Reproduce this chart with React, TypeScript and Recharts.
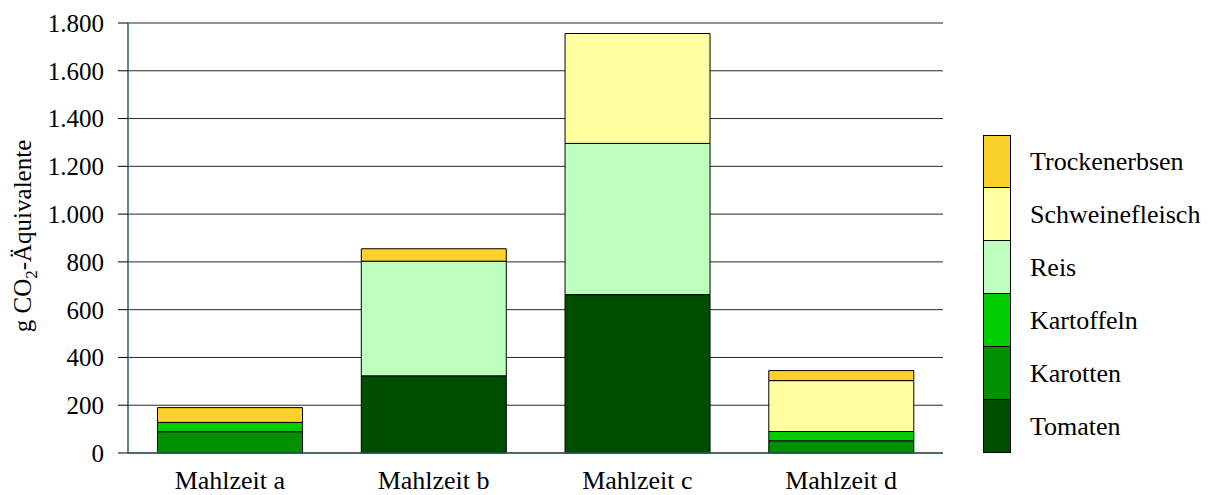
import React from "react";
import { BarChart, Bar, XAxis, YAxis, CartesianGrid } from "recharts";

const meals = ["Mahlzeit a", "Mahlzeit b", "Mahlzeit c", "Mahlzeit d"];
const tomaten = [0, 323, 663, 0];
const karotten = [89, 0, 0, 51];
const kartoffeln = [39, 0, 0, 39];
const reis = [0, 480, 633, 0];
const schweinefleisch = [0, 0, 460, 213];
const trockenerbsen = [62, 52, 0, 42];
const yTicks = [0, 200, 400, 600, 800, 1000, 1200, 1400, 1600, 1800];

const series = [
  { key: "Tomaten", color: "#004d00" },
  { key: "Karotten", color: "#009000" },
  { key: "Kartoffeln", color: "#00cc00" },
  { key: "Reis", color: "#bdffbd" },
  { key: "Schweinefleisch", color: "#ffff9f" },
  { key: "Trockenerbsen", color: "#fcd12a" },
];

const data = meals.map((name, i) => ({
  name,
  Tomaten: tomaten[i],
  Karotten: karotten[i],
  Kartoffeln: kartoffeln[i],
  Reis: reis[i],
  Schweinefleisch: schweinefleisch[i],
  Trockenerbsen: trockenerbsen[i],
}));

const FONT = "'Liberation Serif', 'Times New Roman', serif";
const FRAME = "#2f5f5f";

const fmt = (v: number) => String(v).replace(/\B(?=(\d{3})+(?!\d))/g, ".");

const YLabel = () => (
  <text
    x={0}
    y={0}
    transform="translate(31, 236) rotate(-90)"
    textAnchor="middle"
    fontFamily={FONT}
    fontSize={25}
    fill="#000"
  >
    <tspan>g CO</tspan>
    <tspan fontSize={17} dy={6}>2</tspan>
    <tspan dy={-6}>-Äquivalente</tspan>
  </text>
);

// legend drawn beside the chart, top item first
const LegendBox = () => (
  <div
    style={{
      position: "absolute",
      left: 983,
      top: 135,
      fontFamily: FONT,
      fontSize: 26,
      color: "#000",
    }}
  >
    {[...series].reverse().map((s, i) => (
      <div key={s.key} style={{ display: "flex", alignItems: "center", height: 53 }}>
        <div
          style={{
            width: 28,
            height: 53,
            background: s.color,
            border: "1px solid #000",
            borderTopWidth: i === 0 ? 1 : 0,
            boxSizing: "border-box",
          }}
        />
        <span style={{ marginLeft: 19, whiteSpace: "nowrap" }}>{s.key}</span>
      </div>
    ))}
  </div>
);

export default function App() {
  return (
    <div style={{ position: "absolute", left: 0, top: 0, width: 1209, height: 495, background: "#fff" }}>
      <BarChart
        width={1209}
        height={495}
        data={data}
        margin={{ top: 23, right: 266, bottom: 0, left: 0 }}
        barCategoryGap="14.5%"
      >
        <CartesianGrid vertical={false} stroke="#000" strokeOpacity={0.85} yAxisId={0} />
        <XAxis
          dataKey="name"
          height={42}
          tickLine={false}
          axisLine={{ stroke: FRAME, strokeWidth: 1.5 }}
          tick={{ fill: "#000", fontFamily: FONT, fontSize: 26 }}
          tickMargin={12}
          interval={0}
        />
        <XAxis xAxisId="top" orientation="top" dataKey="name" height={0} tick={false} tickLine={false} axisLine={{ stroke: FRAME, strokeWidth: 1.5 }} />
        <YAxis
          width={128}
          domain={[0, 1800]}
          ticks={yTicks}
          tickFormatter={fmt}
          tickSize={10}
          tickLine={{ stroke: "#000" }}
          axisLine={{ stroke: FRAME, strokeWidth: 1.5 }}
          tick={{ fill: "#000", fontFamily: FONT, fontSize: 25 }}
          tickMargin={14}
          label={<YLabel />}
        />
        <YAxis yAxisId="right" orientation="right" width={0} domain={[0, 1800]} ticks={yTicks} tick={false} tickLine={false} axisLine={{ stroke: FRAME, strokeWidth: 1.5 }} />
        {series.map((s) => (
          <Bar
            key={s.key}
            dataKey={s.key}
            stackId="a"
            fill={s.color}
            stroke="#000"
            strokeWidth={1}
            isAnimationActive={false}
          />
        ))}
      </BarChart>
      <LegendBox />
    </div>
  );
}
